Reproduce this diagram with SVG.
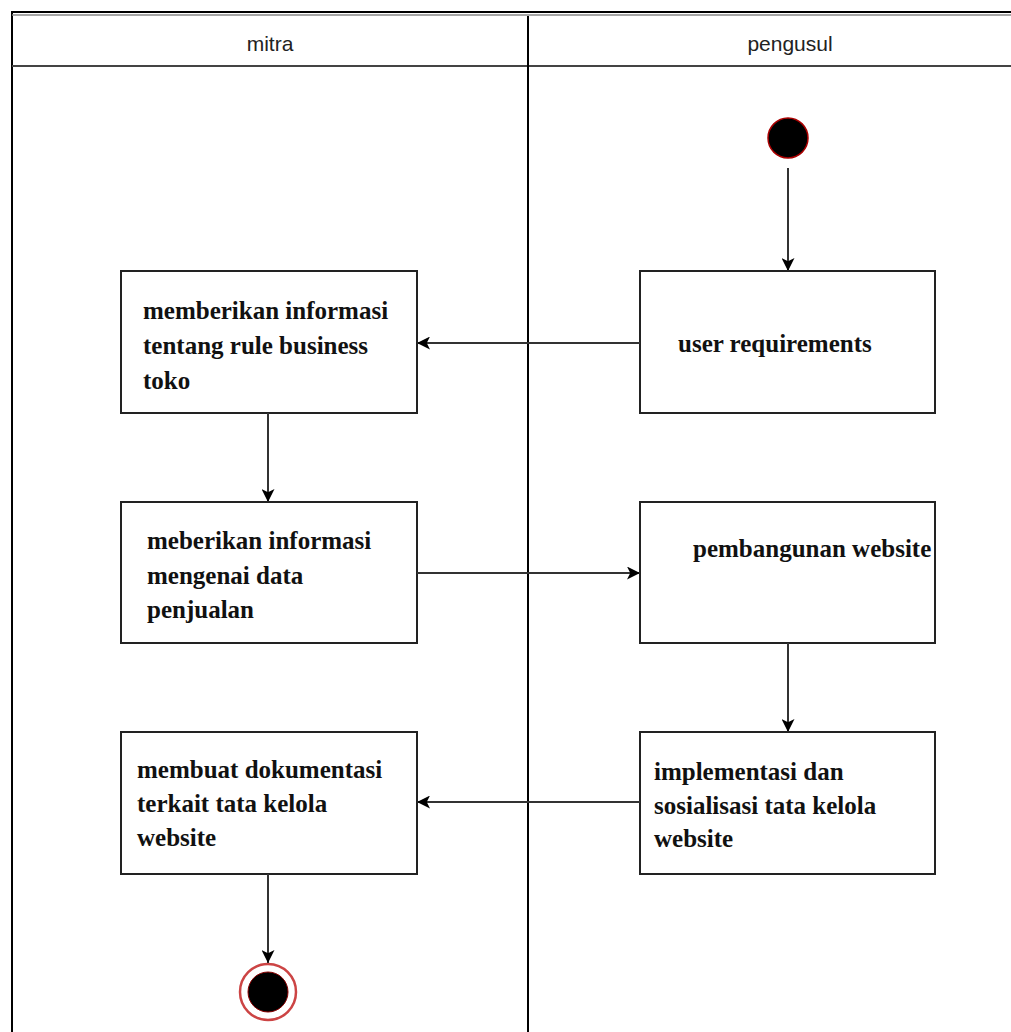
<svg xmlns="http://www.w3.org/2000/svg" width="1011" height="1032" viewBox="0 0 1011 1032">
<defs>
<style>
.lane{fill:none;stroke:#000;stroke-width:2}
.hdr{font-family:"Liberation Sans",Arial,sans-serif;font-size:21px;fill:#222;text-anchor:middle}
.box{fill:#fff;stroke:#222;stroke-width:2}
.t{font-family:"Liberation Serif","Times New Roman",serif;font-weight:bold;font-size:25px;fill:#111}
.c{stroke:#333;stroke-width:2;fill:none;marker-end:url(#ah)}
</style>
<marker id="ah" viewBox="0 0 10 10" refX="10" refY="5" markerWidth="13" markerHeight="13" markerUnits="userSpaceOnUse" orient="auto">
<path d="M0,0 L10,5 L0,10 L2.5,5 Z" fill="#000"/>
</marker>
</defs>
<rect width="1011" height="1032" fill="#fff"/>
<g id="swimlanes">
<rect x="12" y="12" width="1010" height="1030" class="lane"/>
<line x1="12" y1="15" x2="1011" y2="15" stroke="#888" stroke-width="1.5"/>
<line x1="12" y1="66" x2="1011" y2="66" stroke="#444" stroke-width="2"/>
<line x1="528" y1="16" x2="528" y2="1032" stroke="#000" stroke-width="2"/>
<text class="hdr" x="270" y="51">mitra</text>
<text class="hdr" x="790" y="51">pengusul</text>
</g>
<g id="start"><circle cx="788" cy="138" r="20" fill="#000" stroke="#a00" stroke-width="1.5"/></g>
<g id="end">
<circle cx="268" cy="992" r="28" fill="#fff" stroke="#c44" stroke-width="2.5"/>
<circle cx="268" cy="992" r="20" fill="#000" stroke="#800" stroke-width="1"/>
</g>
<g id="n1"><rect class="box" x="121" y="271" width="296" height="142"/>
<text class="t" x="143" y="319">memberikan informasi</text>
<text class="t" x="143" y="354">tentang rule business</text>
<text class="t" x="143" y="389">toko</text></g>
<g id="n2"><rect class="box" x="121" y="502" width="296" height="141"/>
<text class="t" x="147" y="549">meberikan informasi</text>
<text class="t" x="147" y="584">mengenai data</text>
<text class="t" x="147" y="618">penjualan</text></g>
<g id="n3"><rect class="box" x="121" y="732" width="296" height="142"/>
<text class="t" x="137" y="778">membuat dokumentasi</text>
<text class="t" x="137" y="812">terkait tata kelola</text>
<text class="t" x="137" y="846">website</text></g>
<g id="n4"><rect class="box" x="640" y="271" width="295" height="142"/>
<text class="t" x="678" y="352">user requirements</text></g>
<g id="n5"><rect class="box" x="640" y="502" width="295" height="141"/>
<text class="t" x="693" y="557">pembangunan website</text></g>
<g id="n6"><rect class="box" x="640" y="732" width="295" height="142"/>
<text class="t" x="654" y="780">implementasi dan</text>
<text class="t" x="654" y="814">sosialisasi tata kelola</text>
<text class="t" x="654" y="847">website</text></g>
<g id="connectors">
<line class="c" x1="788" y1="168" x2="788" y2="271"/>
<line class="c" x1="640" y1="343" x2="417" y2="343"/>
<line class="c" x1="268" y1="413" x2="268" y2="502"/>
<line class="c" x1="417" y1="573" x2="640" y2="573"/>
<line class="c" x1="788" y1="643" x2="788" y2="732"/>
<line class="c" x1="640" y1="802" x2="417" y2="802"/>
<line class="c" x1="268" y1="874" x2="268" y2="963"/>
</g>
</svg>
